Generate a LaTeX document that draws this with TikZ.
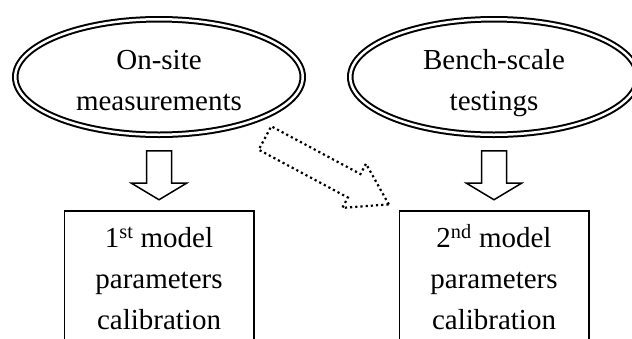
\documentclass[tikz,border=0pt]{standalone}
\usepackage{fontspec}
\setmainfont{Liberation Serif}
\usepackage{tikz}
\usetikzlibrary{shapes.geometric,shapes.arrows,positioning}

\newcommand\linestrut{\rule[-7pt]{0pt}{40pt}}
\newcommand\boxend{\rule[-30pt]{0pt}{63pt}}

\begin{document}
\begin{tikzpicture}[x=1pt,y=-1pt,
    font=\fontsize{29}{34}\selectfont,
    every node/.style={outer sep=0pt},
    source/.style={ellipse, draw, double, double distance=2.5pt, line width=2pt,
        minimum width=287.5pt, minimum height=115.5pt, inner sep=0pt, align=center},
    calib/.style={rectangle, draw, line width=1.5pt, minimum width=189.5pt,
        inner ysep=4pt, align=center},
    downarrow/.style={single arrow, draw, line width=1.5pt, rotate=-90,
        inner xsep=0pt, inner ysep=11.75pt, single arrow head extend=15pt,
        single arrow tip angle=118, minimum height=49pt},
    transfer/.style={single arrow, draw, line width=2.2pt, dash pattern=on 2.2pt off 3pt,
        rotate=-28.2, inner xsep=0pt, inner ysep=12.2pt, single arrow head extend=11.75pt,
        single arrow tip angle=65, minimum height=140.5pt}]
      \useasboundingbox (0,0) rectangle (632,338);
      \clip (0,0) rectangle (632,338);

	\node[source] (onsite) at (159,77) {\linestrut On-site\\\linestrut measurements};
	\node[source] (bench) at (494,77) {\linestrut Bench-scale\\\linestrut testings};

	\node[calib, below=76pt of onsite] (first) {\linestrut 1\textsuperscript{st} model\\\linestrut parameters\\\boxend calibration};
	\node[calib, below=76pt of bench] (second) {\linestrut 2\textsuperscript{nd} model\\\linestrut parameters\\\boxend calibration};

	\node[downarrow, anchor=tail] (arrA) at ([yshift=-16pt]onsite.south) {};
	\node[downarrow, anchor=tail] (arrB) at ([yshift=-16pt]bench.south) {};

	% dotted arrow from the on-site data to the 2nd calibration
	\node[transfer, anchor=tail] (arrC) at (265,138) {};
\end{tikzpicture}
\end{document}
